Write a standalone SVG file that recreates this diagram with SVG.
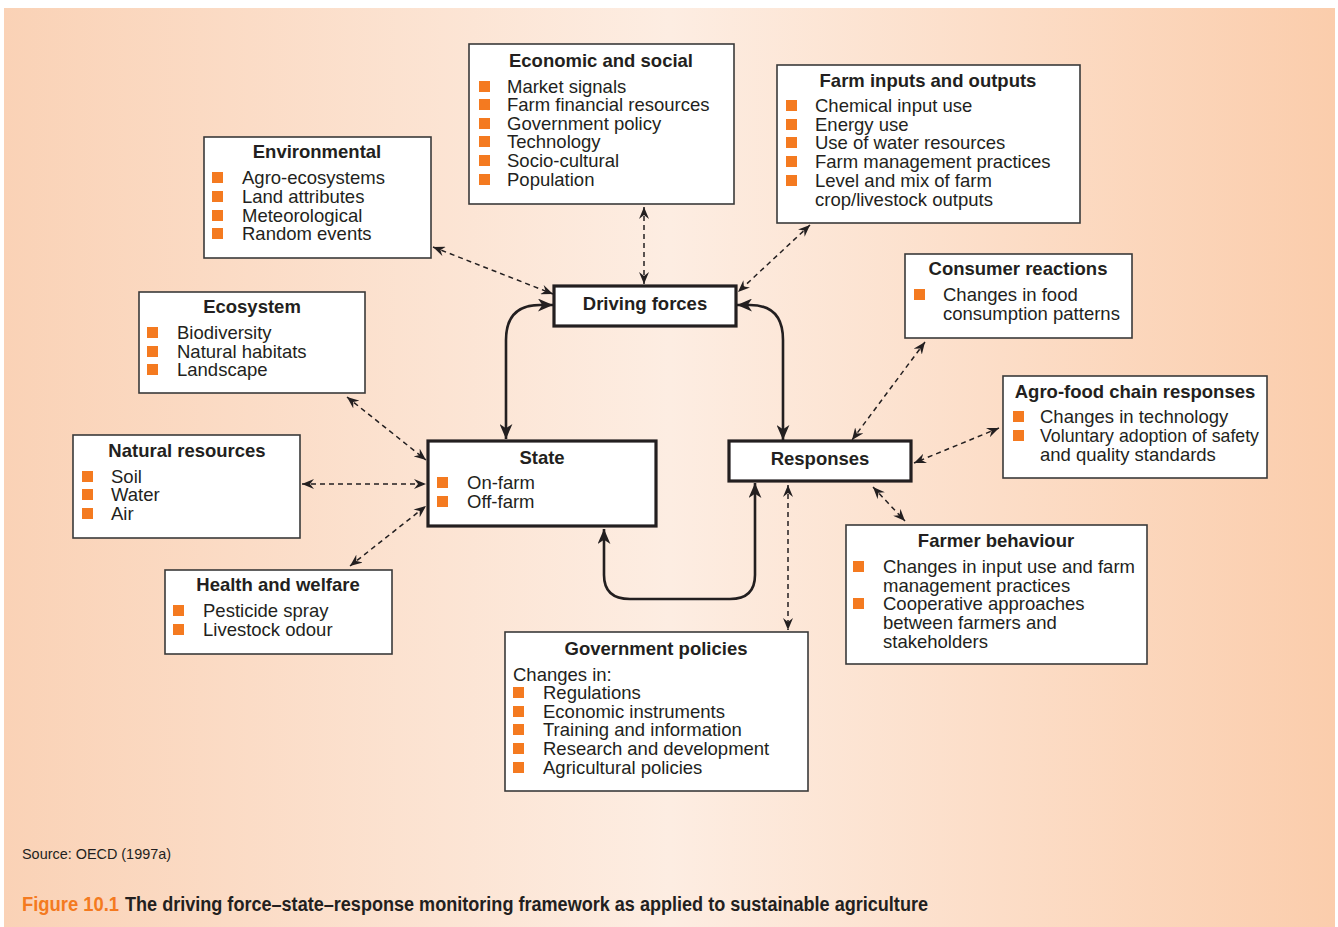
<svg xmlns="http://www.w3.org/2000/svg" width="1338" height="927" viewBox="0 0 1338 927">
<defs>
<linearGradient id="bg" x1="0" y1="0" x2="1" y2="0">
<stop offset="0" stop-color="#fad2b6"/>
<stop offset="0.5" stop-color="#fdede2"/>
<stop offset="1" stop-color="#fbcdac"/>
</linearGradient>
<marker id="ad" viewBox="0 0 12 10" refX="12" refY="5" markerWidth="12" markerHeight="10" markerUnits="userSpaceOnUse" orient="auto-start-reverse">
<path d="M0,0 L12,5 L0,10 L4,5 z" fill="#231f20"/>
</marker>
<marker id="as" viewBox="0 0 14 12" refX="14" refY="6" markerWidth="15" markerHeight="13" markerUnits="userSpaceOnUse" orient="auto-start-reverse">
<path d="M0,0 L14,6 L0,12 L4,6 z" fill="#231f20"/>
</marker>
</defs>
<style>
.box{fill:#fff;stroke:#3a3a3a;stroke-width:1.6}
.cbox{fill:#fff;stroke:#231f20;stroke-width:3.2}
.t{font-family:"Liberation Sans",Arial,sans-serif;font-size:18.5px;font-weight:bold;fill:#231f20;text-anchor:middle}
.b{font-family:"Liberation Sans",Arial,sans-serif;font-size:18.5px;fill:#231f20}
.bu{fill:#f47a20}
.dash{fill:none;stroke:#231f20;stroke-width:1.5;stroke-dasharray:5 4;marker-start:url(#ad);marker-end:url(#ad)}
.sol{fill:none;stroke:#231f20;stroke-width:2.6;marker-start:url(#as);marker-end:url(#as)}
</style>
<rect x="0" y="0" width="1338" height="927" fill="#fff"/>
<rect x="4" y="8" width="1331" height="919" fill="url(#bg)"/>

<g id="connectors">
<path class="dash" d="M433,247 L553,294"/>
<path class="dash" d="M644,207 L644,284"/>
<path class="dash" d="M810,225 L738,292"/>
<path class="dash" d="M347,397 L426,460"/>
<path class="dash" d="M302,484 L426,484"/>
<path class="dash" d="M350,566 L426,506"/>
<path class="dash" d="M925,342 L852,440"/>
<path class="dash" d="M999,428 L914,463"/>
<path class="dash" d="M873,487 L905,521"/>
<path class="dash" d="M788,485 L788,630"/>
<path class="sol" d="M553,305 L540,305 Q506,305 506,340 L506,439"/>
<path class="sol" d="M737,305 L750,305 Q783,305 783,340 L783,440"/>
<path class="sol" d="M604,529 L604,575 Q604,599 630,599 L730,599 Q755,599 755,575 L755,483"/>
</g>

<g id="economic">
<rect class="box" x="469" y="44" width="265" height="160"/>
<text class="t" x="601" y="67">Economic and social</text>
<rect class="bu" x="479" y="81" width="11" height="11"/>
<rect class="bu" x="479" y="99" width="11" height="11"/>
<rect class="bu" x="479" y="118" width="11" height="11"/>
<rect class="bu" x="479" y="136" width="11" height="11"/>
<rect class="bu" x="479" y="155" width="11" height="11"/>
<rect class="bu" x="479" y="174" width="11" height="11"/>
<text class="b" x="507" y="93">Market signals</text>
<text class="b" x="507" y="111">Farm financial resources</text>
<text class="b" x="507" y="130">Government policy</text>
<text class="b" x="507" y="148">Technology</text>
<text class="b" x="507" y="167">Socio-cultural</text>
<text class="b" x="507" y="186">Population</text>
</g>

<g id="farm-inputs">
<rect class="box" x="777" y="65" width="303" height="158"/>
<text class="t" x="928" y="87">Farm inputs and outputs</text>
<rect class="bu" x="786" y="100" width="11" height="11"/>
<rect class="bu" x="786" y="119" width="11" height="11"/>
<rect class="bu" x="786" y="137" width="11" height="11"/>
<rect class="bu" x="786" y="156" width="11" height="11"/>
<rect class="bu" x="786" y="175" width="11" height="11"/>
<text class="b" x="815" y="112">Chemical input use</text>
<text class="b" x="815" y="131">Energy use</text>
<text class="b" x="815" y="149">Use of water resources</text>
<text class="b" x="815" y="168">Farm management practices</text>
<text class="b" x="815" y="187">Level and mix of farm</text>
<text class="b" x="815" y="206">crop/livestock outputs</text>
</g>

<g id="environmental">
<rect class="box" x="204" y="137" width="227" height="121"/>
<text class="t" x="317" y="158">Environmental</text>
<rect class="bu" x="212" y="172" width="11" height="11"/>
<rect class="bu" x="212" y="191" width="11" height="11"/>
<rect class="bu" x="212" y="210" width="11" height="11"/>
<rect class="bu" x="212" y="228" width="11" height="11"/>
<text class="b" x="242" y="184">Agro-ecosystems</text>
<text class="b" x="242" y="203">Land attributes</text>
<text class="b" x="242" y="222">Meteorological</text>
<text class="b" x="242" y="240">Random events</text>
</g>

<g id="ecosystem">
<rect class="box" x="139" y="292" width="226" height="101"/>
<text class="t" x="252" y="313">Ecosystem</text>
<rect class="bu" x="147" y="327" width="11" height="11"/>
<rect class="bu" x="147" y="346" width="11" height="11"/>
<rect class="bu" x="147" y="364" width="11" height="11"/>
<text class="b" x="177" y="339">Biodiversity</text>
<text class="b" x="177" y="358">Natural habitats</text>
<text class="b" x="177" y="376">Landscape</text>
</g>

<g id="natural-resources">
<rect class="box" x="73" y="435" width="227" height="103"/>
<text class="t" x="187" y="457">Natural resources</text>
<rect class="bu" x="82" y="471" width="11" height="11"/>
<rect class="bu" x="82" y="489" width="11" height="11"/>
<rect class="bu" x="82" y="508" width="11" height="11"/>
<text class="b" x="111" y="483">Soil</text>
<text class="b" x="111" y="501">Water</text>
<text class="b" x="111" y="520">Air</text>
</g>

<g id="health">
<rect class="box" x="165" y="570" width="227" height="84"/>
<text class="t" x="278" y="591">Health and welfare</text>
<rect class="bu" x="173" y="605" width="11" height="11"/>
<rect class="bu" x="173" y="624" width="11" height="11"/>
<text class="b" x="203" y="617">Pesticide spray</text>
<text class="b" x="203" y="636">Livestock odour</text>
</g>

<g id="driving-forces">
<rect class="cbox" x="554" y="286" width="182" height="40"/>
<text class="t" x="645" y="310">Driving forces</text>
</g>

<g id="state">
<rect class="cbox" x="428" y="441" width="228" height="85"/>
<text class="t" x="542" y="464">State</text>
<rect class="bu" x="437" y="477" width="11" height="11"/>
<rect class="bu" x="437" y="496" width="11" height="11"/>
<text class="b" x="467" y="489">On-farm</text>
<text class="b" x="467" y="508">Off-farm</text>
</g>

<g id="responses">
<rect class="cbox" x="729" y="441" width="182" height="40"/>
<text class="t" x="820" y="465">Responses</text>
</g>

<g id="consumer">
<rect class="box" x="905" y="254" width="227" height="84"/>
<text class="t" x="1018" y="275">Consumer reactions</text>
<rect class="bu" x="914" y="289" width="11" height="11"/>
<text class="b" x="943" y="301">Changes in food</text>
<text class="b" x="943" y="320">consumption patterns</text>
</g>

<g id="agro-food">
<rect class="box" x="1003" y="376" width="264" height="102"/>
<text class="t" x="1135" y="398">Agro-food chain responses</text>
<rect class="bu" x="1013" y="411" width="11" height="11"/>
<rect class="bu" x="1013" y="430" width="11" height="11"/>
<text class="b" x="1040" y="423">Changes in technology</text>
<text class="b" x="1040" y="442" textLength="219" lengthAdjust="spacingAndGlyphs">Voluntary adoption of safety</text>
<text class="b" x="1040" y="461">and quality standards</text>
</g>

<g id="farmer">
<rect class="box" x="846" y="525" width="301" height="139"/>
<text class="t" x="996" y="547">Farmer behaviour</text>
<rect class="bu" x="853" y="561" width="11" height="11"/>
<rect class="bu" x="853" y="598" width="11" height="11"/>
<text class="b" x="883" y="573">Changes in input use and farm</text>
<text class="b" x="883" y="592">management practices</text>
<text class="b" x="883" y="610">Cooperative approaches</text>
<text class="b" x="883" y="629">between farmers and</text>
<text class="b" x="883" y="648">stakeholders</text>
</g>

<g id="government">
<rect class="box" x="505" y="632" width="303" height="159"/>
<text class="t" x="656" y="655">Government policies</text>
<text class="b" x="513" y="681">Changes in:</text>
<rect class="bu" x="513" y="687" width="11" height="11"/>
<rect class="bu" x="513" y="706" width="11" height="11"/>
<rect class="bu" x="513" y="724" width="11" height="11"/>
<rect class="bu" x="513" y="743" width="11" height="11"/>
<rect class="bu" x="513" y="762" width="11" height="11"/>
<text class="b" x="543" y="699">Regulations</text>
<text class="b" x="543" y="718">Economic instruments</text>
<text class="b" x="543" y="736">Training and information</text>
<text class="b" x="543" y="755">Research and development</text>
<text class="b" x="543" y="774">Agricultural policies</text>
</g>

<g id="caption">
<text x="22" y="859" font-family="'Liberation Sans Narrow','Liberation Sans',Arial,sans-serif" font-size="15" fill="#231f20" textLength="149" lengthAdjust="spacingAndGlyphs">Source: OECD (1997a)</text>
<text x="22" y="911" font-family="'Liberation Sans Narrow','Liberation Sans',Arial,sans-serif" font-size="20" font-weight="bold" fill="#f47a20" textLength="97" lengthAdjust="spacingAndGlyphs">Figure 10.1</text>
<text x="125" y="911" font-family="'Liberation Sans Narrow','Liberation Sans',Arial,sans-serif" font-size="20" font-weight="bold" fill="#231f20" textLength="803" lengthAdjust="spacingAndGlyphs">The driving force–state–response monitoring framework as applied to sustainable agriculture</text>
</g>
</svg>
